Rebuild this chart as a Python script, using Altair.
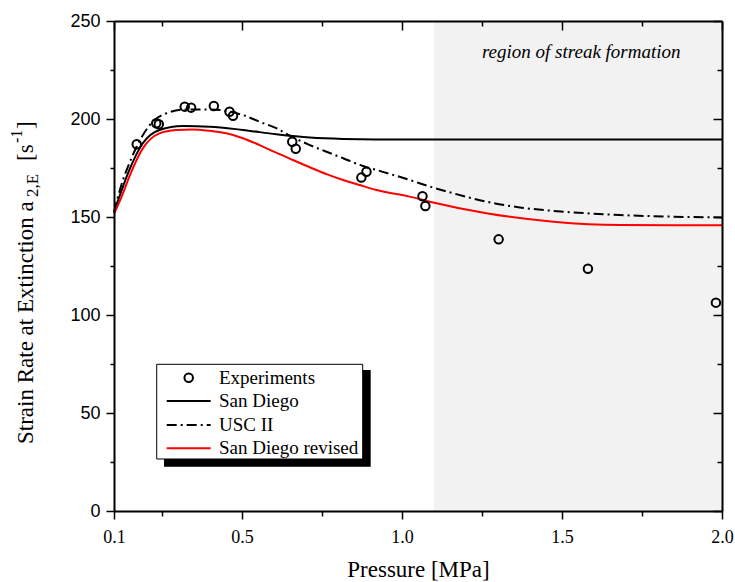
import altair as alt
import pandas as pd

# ---------------- data ----------------
exp_p = [0.171, 0.232, 0.240, 0.321, 0.341, 0.412, 0.461, 0.472, 0.657, 0.668,
         0.873, 0.889, 1.064, 1.073, 1.302, 1.581, 1.981]
exp_a = [187.1, 197.8, 197.3, 206.3, 205.8, 206.6, 203.7, 201.7, 188.4, 184.8,
         170.1, 173.1, 160.6, 155.6, 138.6, 123.6, 106.3]

sd_p = [0.1, 0.128, 0.148, 0.19, 0.242, 0.315, 0.399, 0.503, 0.607, 0.712,
        0.816, 0.92, 1.1, 1.4, 1.7, 2.0]
sd_a = [152.5, 165.5, 174.0, 187.6, 194.4, 196.4, 196.1, 194.4, 192.2, 190.5,
        189.8, 189.6, 189.6, 189.6, 189.6, 189.6]

usc_p = [0.1, 0.128, 0.148, 0.171, 0.221, 0.263, 0.326, 0.399, 0.451, 0.503,
         0.555, 0.607, 0.659, 0.712, 0.764, 0.816, 0.878, 0.92, 1.024, 1.087,
         1.16, 1.264, 1.368, 1.473, 1.577, 1.681, 1.838, 2.0]
usc_a = [152.5, 168.9, 177.4, 186.0, 198.6, 202.9, 204.9, 204.9, 204.1, 202.0,
         198.6, 195.3, 190.7, 186.7, 183.3, 180.0, 176.0, 174.0, 168.9, 165.5,
         162.1, 157.8, 154.9, 153.1, 151.9, 151.0, 150.2, 149.8]

sdr_p = [0.1, 0.128, 0.148, 0.19, 0.242, 0.295, 0.346, 0.399, 0.451, 0.503,
         0.555, 0.607, 0.659, 0.712, 0.764, 0.816, 0.868, 0.92, 1.024, 1.087,
         1.264, 1.473, 1.681, 2.0]
sdr_a = [151.5, 162.1, 170.6, 185.0, 192.7, 194.4, 194.7, 194.0, 192.7, 190.2,
         186.7, 182.8, 179.1, 175.4, 171.9, 168.9, 166.3, 163.8, 160.4, 157.8,
         151.9, 147.6, 145.9, 145.8]

series_names = ["Experiments", "San Diego", "USC II", "San Diego revised"]
x_major = [0.1, 0.5, 1.0, 1.5, 2.0]
x_minor = [0.25, 0.75, 1.25, 1.75]
y_major = [0, 50, 100, 150, 200, 250]
y_minor = [25, 75, 125, 175, 225]
streak_from = [1.1]
streak_to = [2.0]
annot_p = [1.56]
annot_a = [234]
annot_text = ["region of streak formation"]

# ---------------- layout / style ----------------
W, H = 608, 490
SERIF = "Liberation Serif"
SANS = "Liberation Sans"
RED = "#ff0000"

xs = alt.Scale(domain=[0.1, 2.0], nice=False, zero=False)
ys = alt.Scale(domain=[0, 250], nice=False, zero=True)

common = dict(grid=False, tickColor="black", domainColor="black", tickWidth=1.5,
              domainWidth=2, zindex=2)

ax_bottom = alt.Axis(orient="bottom", values=x_major, format=".1f", tickSize=8,
                     labelFont=SERIF, labelFontSize=18, labelColor="black",
                     labelPadding=9, labelFlush=False, labelOverlap=False,
                     title="Pressure [MPa]", titleFont=SERIF, titleFontSize=23,
                     titleFontWeight="normal", titleColor="black", titlePadding=12,
                     **common)
ax_bottom_minor = alt.Axis(orient="bottom", values=x_minor, tickSize=5, labels=False,
                           domain=False, title=None, **common)
ax_top = alt.Axis(orient="bottom", offset=-H, values=x_major, tickSize=9, labels=False,
                  title=None, **common)
ax_top_minor = alt.Axis(orient="bottom", offset=-H, values=x_minor, tickSize=5,
                        labels=False, domain=False, title=None, **common)

ax_left = alt.Axis(orient="left", values=y_major, format="d", tickSize=8,
                   labelFont=SANS, labelFontSize=18, labelColor="black",
                   labelPadding=6, labelOverlap=False, title=None, **common)
ax_left_minor = alt.Axis(orient="left", values=y_minor, tickSize=4, labels=False,
                         domain=False, title=None, **common)
ax_right = alt.Axis(orient="left", offset=-W, values=y_major, tickSize=9, labels=False,
                    title=None, **common)
ax_right_minor = alt.Axis(orient="left", offset=-W, values=y_minor, tickSize=5,
                          labels=False, domain=False, title=None, **common)

df_exp = pd.DataFrame({"p": exp_p, "a": exp_a})
df_sd = pd.DataFrame({"p": sd_p, "a": sd_a})
df_usc = pd.DataFrame({"p": usc_p, "a": usc_a})
df_sdr = pd.DataFrame({"p": sdr_p, "a": sdr_a})
df_shade = pd.DataFrame({"p0": streak_from, "p1": streak_to})
df_annot = pd.DataFrame({"p": annot_p, "a": annot_a, "t": annot_text})
one = pd.DataFrame({"k": [0]})

shade = alt.Chart(df_shade).mark_rect(color="#f2f2f2").encode(
    x=alt.X("p0:Q", scale=xs, axis=None), x2="p1:Q",
    y=alt.value(0), y2=alt.value(H))

line_sd = alt.Chart(df_sd).mark_line(color="black", strokeWidth=2, interpolate="monotone").encode(
    x=alt.X("p:Q", scale=xs, axis=ax_bottom),
    y=alt.Y("a:Q", scale=ys, axis=ax_left))
line_usc = alt.Chart(df_usc).mark_line(color="black", strokeWidth=2, interpolate="monotone",
                                       strokeDash=[10, 4, 2, 4]).encode(
    x=alt.X("p:Q", scale=xs, axis=ax_bottom_minor),
    y=alt.Y("a:Q", scale=ys, axis=ax_left_minor))
line_sdr = alt.Chart(df_sdr).mark_line(color=RED, strokeWidth=2, interpolate="monotone").encode(
    x=alt.X("p:Q", scale=xs, axis=ax_top),
    y=alt.Y("a:Q", scale=ys, axis=ax_right))
pts = alt.Chart(df_exp).mark_point(shape="circle", filled=False, color="black",
                                   strokeWidth=2, size=72, opacity=1).encode(
    x=alt.X("p:Q", scale=xs, axis=ax_top_minor),
    y=alt.Y("a:Q", scale=ys, axis=ax_right_minor))
annot = alt.Chart(df_annot).mark_text(font=SERIF, fontSize=19, fontStyle="italic",
                                      color="black", align="center", baseline="middle").encode(
    x=alt.X("p:Q", scale=xs, axis=None),
    y=alt.Y("a:Q", scale=ys, axis=None),
    text="t:N")

# ---------------- legend (box with drop shadow) ----------------
leg = []
leg.append(alt.Chart(one).mark_rect(color="black").encode(
    x=alt.value(50), x2=alt.value(256.7), y=alt.value(349), y2=alt.value(445.7)))
leg.append(alt.Chart(one).mark_rect(fill="white", stroke="black", strokeWidth=1).encode(
    x=alt.value(42.7), x2=alt.value(248.7), y=alt.value(343.3), y2=alt.value(438)))
rows_y = [356.7, 380, 404, 427.3]
leg.append(alt.Chart(one).mark_point(shape="circle", filled=False, color="black",
                                     strokeWidth=2, size=72, opacity=1).encode(
    x=alt.value(74.7), y=alt.value(rows_y[0])))
leg.append(alt.Chart(one).mark_rule(color="black", strokeWidth=2).encode(
    x=alt.value(52.7), x2=alt.value(96.7), y=alt.value(rows_y[1])))
leg.append(alt.Chart(one).mark_rule(color="black", strokeWidth=2, strokeDash=[10, 4, 2, 4]).encode(
    x=alt.value(52.7), x2=alt.value(96.7), y=alt.value(rows_y[2])))
leg.append(alt.Chart(one).mark_rule(color=RED, strokeWidth=2).encode(
    x=alt.value(52.7), x2=alt.value(96.7), y=alt.value(rows_y[3])))
for name, ry in zip(series_names, rows_y):
    leg.append(alt.Chart(one).mark_text(text=name, font=SERIF, fontSize=19, color="black",
                                        align="left", baseline="middle").encode(
        x=alt.value(105), y=alt.value(ry)))

# ---------------- y-axis title with sub/superscripts ----------------
ytitle = []
pieces = [
    ("Strain Rate at Extinction a", 23, -81, 423),
    ("2,E", 17, -76, 176),
    ("[s", 23, -81, 140),
    ("-1", 16, -92, 122),
    ("]", 23, -81, 108),
]
for txt, fs, px, py in pieces:
    ytitle.append(alt.Chart(one).mark_text(text=txt, font=SERIF, fontSize=fs, color="black",
                                           angle=270, align="left", baseline="alphabetic").encode(
        x=alt.value(px), y=alt.value(py)))

chart = alt.layer(shade, line_sd, line_usc, line_sdr, pts, annot, *leg, *ytitle).resolve_axis(
    x="independent", y="independent"
).properties(
    width=W, height=H,
    autosize=alt.AutoSizeParams(type="none"),
    padding={"left": 114, "top": 21, "right": 13, "bottom": 71},
    background="white",
).configure_view(stroke=None)

chart.save("out.html", embed_options={"renderer": "svg", "actions": False})
